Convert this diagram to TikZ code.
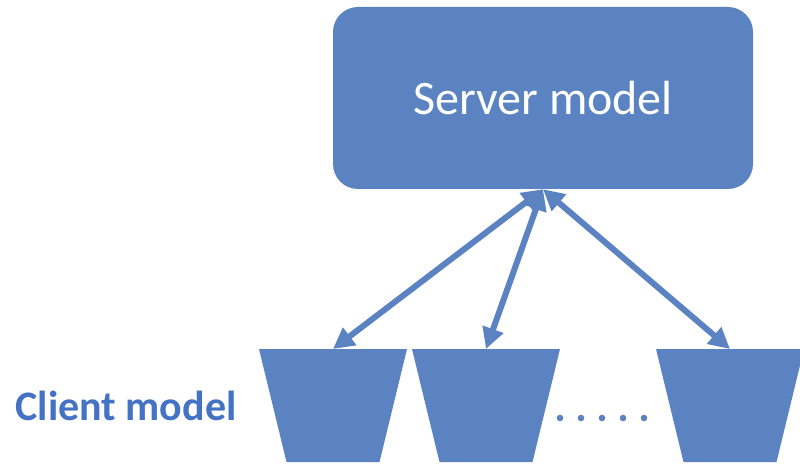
\documentclass[tikz,border=0pt]{standalone}
\usepackage{fontspec}
\setmainfont{Carlito}
\usetikzlibrary{calc, arrows.meta}

\definecolor{boxblue}{RGB}{91,131,193}
\definecolor{textblue}{RGB}{68,114,196}

\tikzset{
	server/.style = {fill = boxblue, rounded corners = 25pt, minimum width = 420pt, minimum height = 182pt, inner sep = 0pt, text = white, font = \fontsize{48}{58}\selectfont},
	link/.style = {draw = boxblue, line width = 6pt, {Triangle[length = 21pt, width = 21pt]}-{Triangle[length = 21pt, width = 21pt]}},
	label/.style = {text = textblue, font = \fontsize{42}{50}\selectfont\bfseries, anchor = base},
}

\begin{document}
\begin{tikzpicture}[x = 1pt, y = -1pt]
		\useasboundingbox (0,0) rectangle (800,465);
		\clip (0,0) rectangle (800,465);
		
		\def\top{349};
		\def\bottom{462};
		\def\wt{74};
		\def\wb{46.5};
		
		\node [server] (server) at (543,98) {Server model};
		
		\foreach \i/\x in {1/333, 2/486, 3/730} {
			\coordinate (client \i) at (\x, \top);
			\fill [boxblue] ($ (client \i) + (-\wt,0) $) -- ($ (client \i) + (\wt,0) $) -- (\x+\wb, \bottom) -- (\x-\wb, \bottom) -- cycle;
		}
		
		\draw [link] (server.south) -- (client 1);
		\draw [link] (server.south) -- (client 2);
		\draw [link] (server.south) -- (client 3);
		
		\foreach \x in {560, 581, 602, 623, 644} {
			\fill [boxblue] (\x, 418) circle [radius = 3.3pt];
		}
		
		\node [label] (client label) at (126,420) {Client model};
	\end{tikzpicture}
\end{document}
